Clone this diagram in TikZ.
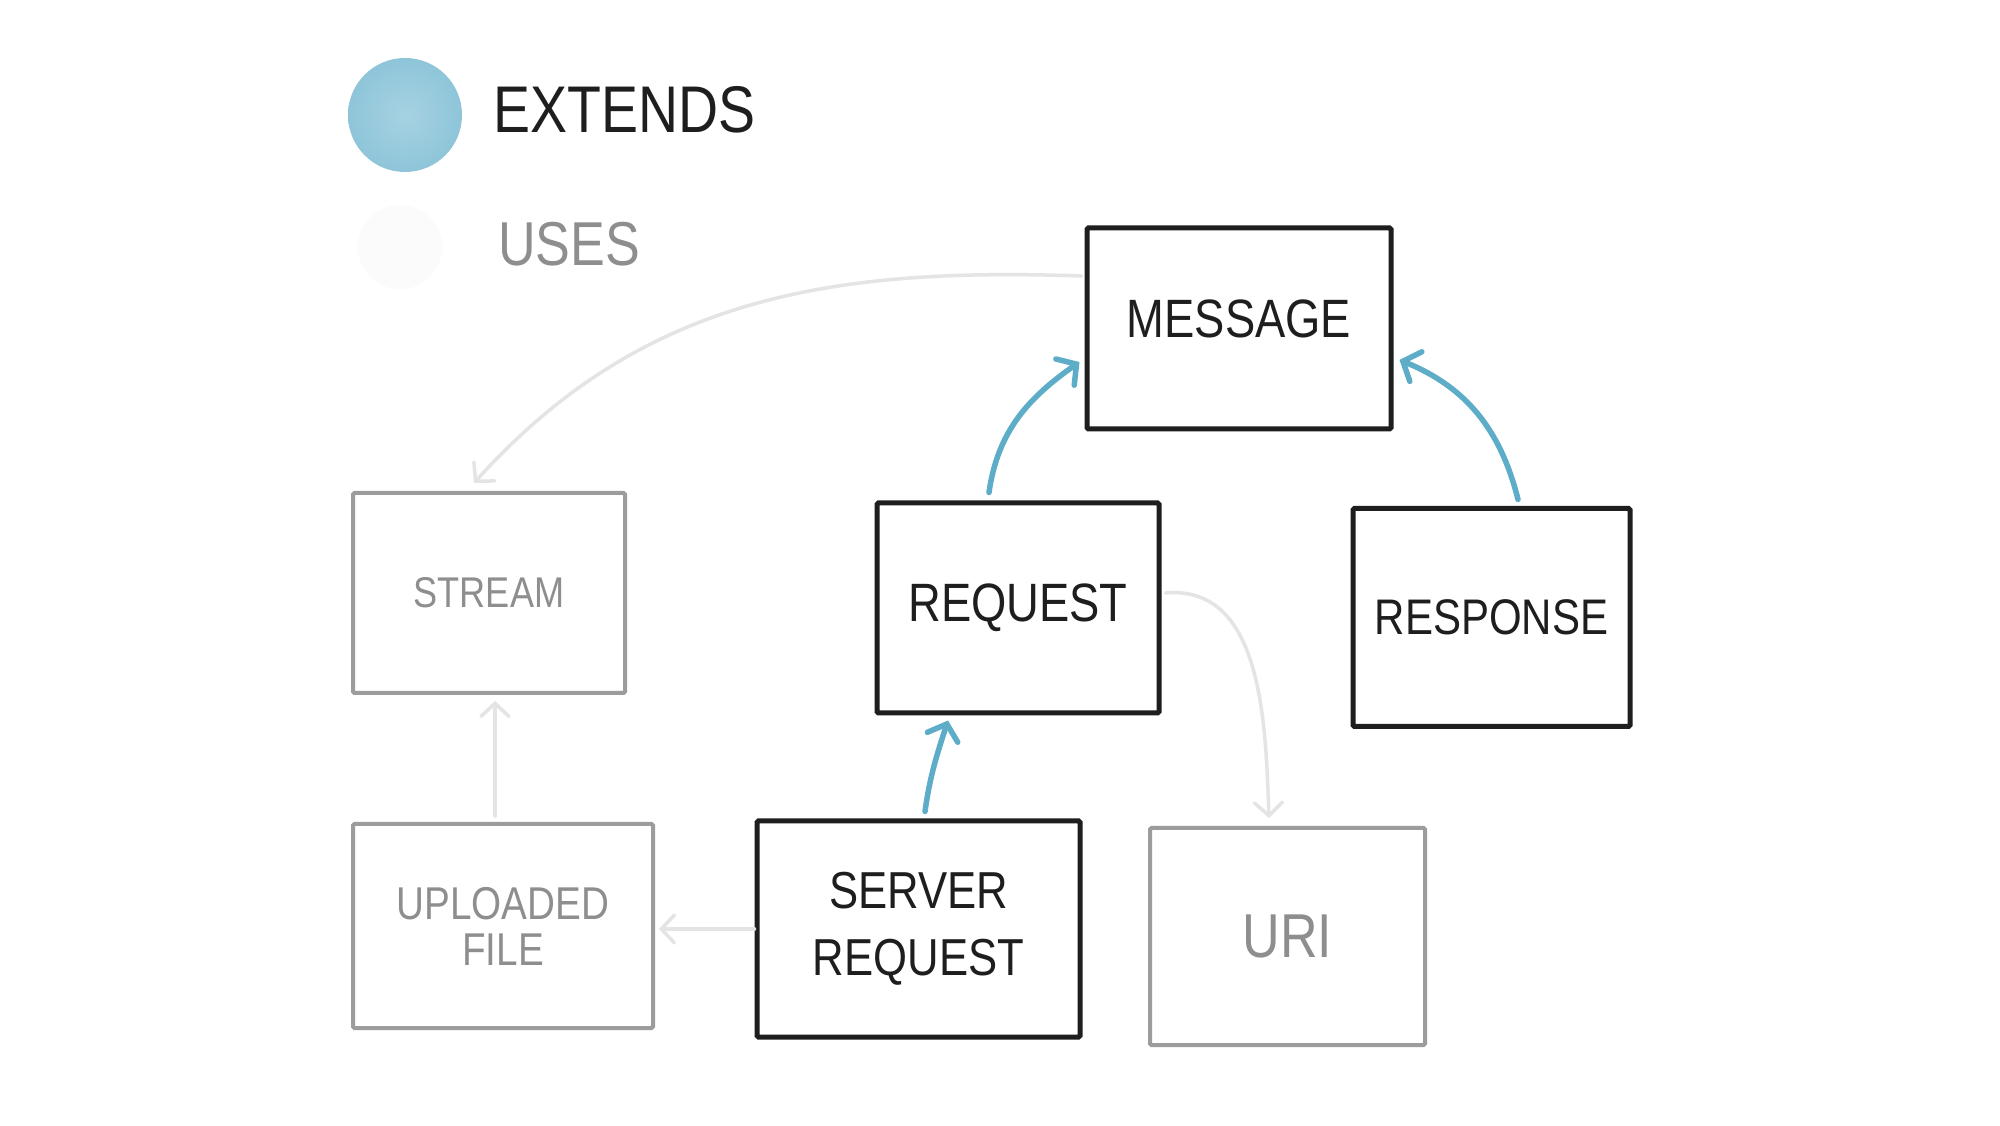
\documentclass[tikz,border=0pt]{standalone}
\usepackage{fontspec}
\newfontfamily\hand{Liberation Sans}[FakeStretch=0.84]
\usetikzlibrary{arrows.meta,calc}
\definecolor{ink}{HTML}{1E1E1E}
\definecolor{greyline}{HTML}{9C9C9C}
\definecolor{greytext}{HTML}{8E8E8E}
\definecolor{blueline}{HTML}{5EADC8}
\definecolor{bluefill}{HTML}{8EC5D9}
\definecolor{bluelight}{HTML}{A6D2E2}
\definecolor{uselines}{HTML}{E4E4E4}
\definecolor{faintdot}{HTML}{FBFBFB}
\tikzset{
  mainbox/.style={draw=ink, line width=5pt, fill=white, rectangle, inner sep=0pt,
    rounded corners=1.5pt, text=ink, align=center},
  minorbox/.style={draw=greyline, line width=4pt, fill=white, rectangle, inner sep=0pt,
    rounded corners=1.5pt, text=greytext, align=center},
  extarrow/.style={draw=blueline, line width=5.5pt, line cap=round,
    -{Straight Barb[length=14pt,width=32pt,line cap=round]}},
  usearrow/.style={draw=uselines, line width=3.5pt, line cap=round,
    -{Straight Barb[length=13pt,width=28pt,line cap=round]}},
  legendtext/.style={anchor=west, inner sep=0pt},
}
\begin{document}
\begin{tikzpicture}[x=1pt,y=1pt]
\useasboundingbox[fill=white] (0,0) rectangle (2000,1125);

% legend
\node[circle, shading=radial, inner color=bluelight, outer color=bluefill, minimum size=114pt, inner sep=0pt] (extdot) at (405,1010) {};
\node[legendtext, text=ink, font=\hand\fontsize{66}{70}\selectfont] (extlabel) at (493,1015) {EXTENDS};
\node[circle, fill=faintdot, minimum size=84pt, inner sep=0pt] (usedot) at (400,878) {};
\node[legendtext, text=greytext, font=\hand\fontsize{62}{66}\selectfont] (uselabel) at (498,881) {USES};

% boxes
\node[mainbox, minimum width=304pt, minimum height=201pt, text depth=20pt, font=\hand\fontsize{54}{60}\selectfont] (msg) at (1239,796.5) {MESSAGE};
\node[mainbox, minimum width=282pt, minimum height=210pt, font=\hand\fontsize{54}{60}\selectfont] (req) at (1018,517) {REQUEST};
\node[mainbox, minimum width=277pt, minimum height=218pt, font=\hand\fontsize{50}{60}\selectfont] (resp) at (1491.5,507.5) {RESPONSE};
\node[mainbox, minimum width=323pt, minimum height=216pt, font=\hand\fontsize{52}{67}\selectfont] (srv) at (918.5,196) {SERVER\\REQUEST};
\node[minorbox, minimum width=272pt, minimum height=200pt, font=\hand\fontsize{43}{50}\selectfont] (stream) at (489,532) {STREAM};
\node[minorbox, minimum width=300pt, minimum height=204pt, font=\hand\fontsize{46}{46}\selectfont] (upl) at (503,199) {UPLOADED\\FILE};
\node[minorbox, minimum width=275pt, minimum height=217pt, font=\hand\fontsize{62}{66}\selectfont] (uri) at (1287.5,188.5) {URI};

% extends (blue)
\draw[extarrow] ($(req.north)+(-29,8)$) to[out=82, in=215] ($(msg.west)+(-5,-33.5)$);
\draw[extarrow] ($(resp.north)+(26.5,6.5)$) to[out=104, in=-22] ($(msg.east)+(6,-31.5)$);
\draw[extarrow] ($(srv.north)+(6.5,7)$) to[out=82, in=252] ($(req.south)+(-70,-5)$);

% uses (grey)
\draw[usearrow] ($(msg.west)+(-3,52.5)$) to[out=178, in=48] ($(stream.north)+(-15,8)$);
\draw[usearrow] ($(upl.north)+(-8,6)$) -- ($(stream.south)+(6,-6)$);
\draw[usearrow] (srv.west) -- ($(upl.east)+(4,-3)$);
\draw[usearrow] ($(req.east)+(4,15)$) to[out=5, in=92] ($(uri.north)+(-18.5,8)$);
\end{tikzpicture}
\end{document}
